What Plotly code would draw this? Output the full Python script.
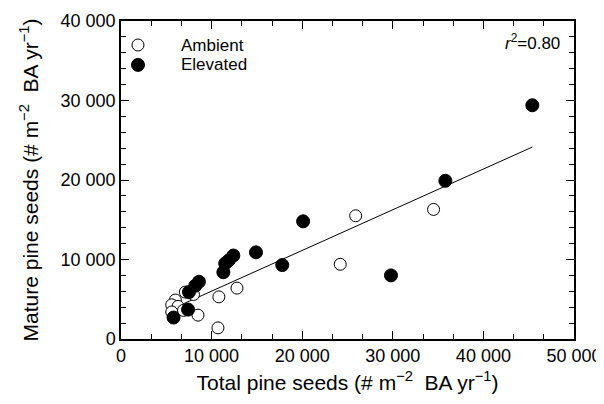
import plotly.graph_objects as go

# Data
ambient_x = [34500, 25900, 24200, 12800, 10800, 10700, 8500, 7100, 8000, 6000, 5600, 6300, 6900, 5600]
ambient_y = [16300, 15500, 9400, 6400, 5300, 1400, 3000, 5900, 5600, 4900, 4300, 4100, 3600, 3400]

elevated_x = [45400, 35800, 29800, 20100, 17800, 14900, 12400, 11900, 11500, 11300, 8600, 8200, 7500, 7400, 5800]
elevated_y = [29400, 19900, 8000, 14800, 9300, 10900, 10500, 9900, 9500, 8400, 7200, 6700, 5900, 3700, 2700]

series_names = ["Ambient", "Elevated"]

fit_slope = 0.512
fit_intercept = 900
fit_x = [5800, 45400]
r2_text = "0.80"

x_tickvals = [0, 10000, 20000, 30000, 40000, 50000]
x_ticktext = ["0", "10 000", "20 000", "30 000", "40 000", "50 000"]
y_tickvals = [0, 10000, 20000, 30000, 40000]
y_ticktext = ["0", "10 000", "20 000", "30 000", "40 000"]

FONT = "Liberation Sans, Arial, sans-serif"

fig = go.Figure()

fit_y = [fit_slope * v + fit_intercept for v in fit_x]
fig.add_trace(go.Scatter(x=fit_x, y=fit_y, mode="lines",
                         line=dict(color="black", width=1), showlegend=False,
                         hoverinfo="skip"))

fig.add_trace(go.Scatter(x=ambient_x, y=ambient_y, mode="markers", name=series_names[0],
                         showlegend=False,
                         marker=dict(symbol="circle", size=12, color="white",
                                     line=dict(color="black", width=1))))
fig.add_trace(go.Scatter(x=elevated_x, y=elevated_y, mode="markers", name=series_names[1],
                         showlegend=False,
                         marker=dict(symbol="circle", size=13, color="black",
                                     line=dict(color="black", width=1))))

axis_common = dict(
    showline=True, linecolor="black", linewidth=1.5, mirror="allticks",
    ticks="inside", ticklen=8, tickwidth=1.3, tickcolor="black",
    showgrid=False, zeroline=False, automargin=False,
    tickfont=dict(family=FONT, size=18, color="black"),
)

fig.update_xaxes(
    range=[0, 50000], tickvals=x_tickvals, ticktext=x_ticktext,
    minor=dict(tick0=0, dtick=10000 / 3, ticks="inside", ticklen=5, tickwidth=1.2,
               tickcolor="black", showgrid=False),
    title=dict(text="Total pine seeds (# m<sup>−2</sup>  BA yr<sup>−1</sup>)",
               font=dict(family=FONT, size=21, color="black"), standoff=10),
    **axis_common,
)
fig.update_yaxes(
    range=[0, 40000], tickvals=y_tickvals, ticktext=y_ticktext,
    minor=dict(tick0=0, dtick=2000, ticks="inside", ticklen=5, tickwidth=1.2,
               tickcolor="black", showgrid=False),
    title=dict(text="Mature pine seeds (# m<sup>−2</sup>  BA yr<sup>−1</sup>)",
               font=dict(family=FONT, size=21, color="black"), standoff=16),
    **axis_common,
)

# r^2 label
fig.add_annotation(x=0.974, y=0.934, xref="paper", yref="paper",
                   xanchor="right", yanchor="middle", showarrow=False,
                   text="<i>r</i><sup>2</sup>=" + r2_text,
                   font=dict(family=FONT, size=17, color="black"))

# Legend (symbol + label), laid out in paper coordinates
legend_rows = [
    dict(name=series_names[0], y=0.9245, fill="white", r=6),
    dict(name=series_names[1], y=0.862, fill="black", r=6.5),
]
for row in legend_rows:
    fig.add_shape(type="circle", xref="paper", yref="paper",
                  xsizemode="pixel", ysizemode="pixel",
                  xanchor=0.0375, yanchor=row["y"],
                  x0=-row["r"], x1=row["r"], y0=-row["r"], y1=row["r"],
                  fillcolor=row["fill"], line=dict(color="black", width=1))
    fig.add_annotation(x=0.128, y=row["y"], xref="paper", yref="paper",
                       xanchor="left", yanchor="middle", showarrow=False,
                       text=row["name"],
                       font=dict(family=FONT, size=17, color="black"))

fig.update_layout(
    width=604, height=404,
    margin=dict(l=113, r=38, t=13, b=73),
    paper_bgcolor="white", plot_bgcolor="white",
    showlegend=False,
)

fig.write_html("out.html")
